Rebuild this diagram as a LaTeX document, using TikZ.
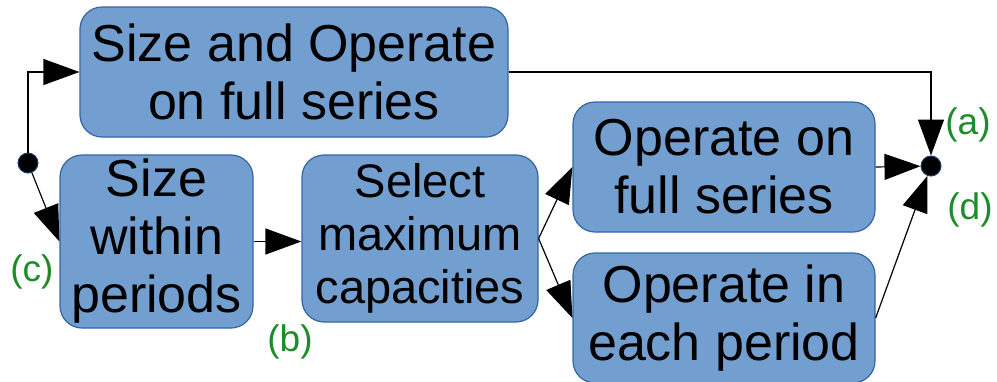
\documentclass[tikz,border=0pt]{standalone}
\usepackage{fontspec}
\setmainfont{Liberation Sans}
\usetikzlibrary{arrows.meta}
\definecolor{boxfill}{HTML}{729FCF}
\definecolor{boxline}{HTML}{3465A4}
\definecolor{lblgreen}{HTML}{1E8C2A}
\definecolor{dotline}{HTML}{1C3F78}
\begin{document}
\begin{tikzpicture}[x=1pt,y=-1pt,
  procbox/.style={draw=boxline, fill=boxfill, line width=1.2pt, rounded corners=22pt,
    inner sep=0pt, align=center, text=black, font=\fontsize{52}{58}\selectfont},
  flow/.style={line width=1.2pt, -{Triangle[length=36pt,width=26pt]}},
  junction/.style={circle, fill=black, draw=dotline, line width=1pt, minimum size=20pt, inner sep=0pt},
  lbl/.style={text=lblgreen, font=\fontsize{37}{40}\selectfont, inner sep=0pt}]
\useasboundingbox (0,0) rectangle (997,381);
\node[procbox, minimum width=428pt, minimum height=130pt] (top) at (294,72) {Size and Operate\\on full series};
\node[procbox, minimum width=193pt, minimum height=173pt] (sw) at (156.5,241.5) {Size\\within\\periods};
\node[procbox, minimum width=236pt, minimum height=167pt, font=\fontsize{47}{53}\selectfont] (sel) at (420,238.5) {Select\\maximum\\capacities};
\node[procbox, minimum width=302pt, minimum height=130pt] (ofs) at (724,167) {Operate on\\full series};
\node[procbox, minimum width=302pt, minimum height=130pt] (oep) at (724,318) {Operate in\\each period};
\node[junction] (L) at (28,163) {};
\node[junction] (R) at (931,166) {};
\draw[flow] (L) |- (top.west);
\draw[flow] (L) -- (sw.west);
\draw[flow] (sw.east) -- (sw.east -| sel.west);
\draw[flow] (sel.east) -- (ofs.west);
\draw[flow] (sel.east) -- (oep.west);
\draw[flow] (ofs.east) -- (R);
\draw[flow] (oep.east) -- (R);
\draw[flow] (top.east) -| (R);
\node[lbl] (la) at (968,125) {(a)};
\node[lbl] (ld) at (970,210) {(d)};
\node[lbl] (lc) at (32,272) {(c)};
\node[lbl] (lb) at (290,342) {(b)};
\end{tikzpicture}
\end{document}
